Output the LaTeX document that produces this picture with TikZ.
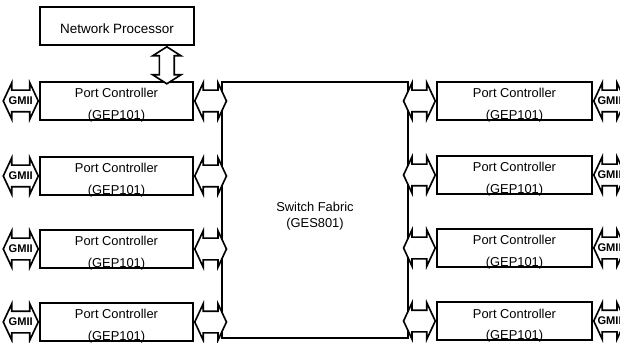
\documentclass[tikz,border=0pt]{standalone}
\usepackage{fontspec}
\setmainfont{Liberation Sans}
\usepackage{tikz}
\usetikzlibrary{positioning, calc, shapes.arrows}

\begin{document}
\begin{tikzpicture}[
    x=0.03cm, y=-0.03cm,
    chip/.style={rectangle, draw=black, fill=white, line width=1.4pt,
                 minimum width=4.6cm, minimum height=1.14cm,
                 align=center, inner sep=0pt,
                 font=\fontsize{11}{18.5}\selectfont},
    port/.style={chip, label={[align=center, yshift=-0.135cm,
                 font=\fontsize{11}{18.5}\selectfont]center:Port Controller\\(GEP101)}},
    link/.style={double arrow, draw=black, fill=white, line width=1.4pt,
                 inner sep=0.3cm, double arrow head extend=0.22cm,
                 double arrow tip angle=130, minimum height=0.87cm},
    gmii/.style={link, minimum height=1.05cm,
                 label={[font=\fontsize{9.5}{10}\selectfont\bfseries]center:GMII}},
  ]
    \useasboundingbox (0,0) rectangle (620,343);

    % Switch fabric in the middle
    \node[chip, minimum width=5.58cm, minimum height=7.68cm, text height=33pt,
          font=\fontsize{11}{14.5}\selectfont] (SF) at (315,210)
         {Switch Fabric\\(GES801)};

    % Network processor
    \node[chip, minimum width=4.62cm, text height=13.5pt,
          font=\fontsize{11.5}{14}\selectfont] (NP)
         at (117,26) {Network Processor};

    % Left port controllers
    \node[port, minimum width=4.59cm] (PCL1) at (116.5,101) {};
    \node[port, minimum width=4.59cm] (PCL2) at (116.5,176) {};
    \node[port, minimum width=4.59cm] (PCL3) at (116.5,249) {};
    \node[port, minimum width=4.59cm] (PCL4) at (116.5,322) {};

    % Right port controllers
    \node[port, minimum width=4.65cm] (PCR1) at (514.5,101) {};
    \node[port, minimum width=4.65cm] (PCR2) at (514.5,175) {};
    \node[port, minimum width=4.65cm] (PCR3) at (514.5,248) {};
    \node[port, minimum width=4.65cm] (PCR4) at (514.5,321) {};

    % Processor to first port controller
    \node[link, shape border rotate=90, inner sep=0.2cm,
          double arrow head extend=0.2cm, double arrow tip angle=115,
          minimum height=1.11cm, anchor=north] (NPA)
         at ([xshift=-0.84cm]NP.south east) {};

    % Links to the switch fabric
    \node[link, right=0pt of PCL1] (LL1) {};
    \node[link, right=0pt of PCL2] (LL2) {};
    \node[link, right=0pt of PCL3] (LL3) {};
    \node[link, right=0pt of PCL4] (LL4) {};
    \node[link, left=0pt of PCR1] (LR1) {};
    \node[link, left=0pt of PCR2] (LR2) {};
    \node[link, left=0pt of PCR3] (LR3) {};
    \node[link, left=0pt of PCR4] (LR4) {};

    % GMII ports
    \node[gmii, left=0pt of PCL1] (GL1) {};
    \node[gmii, left=0pt of PCL2] (GL2) {};
    \node[gmii, left=0pt of PCL3] (GL3) {};
    \node[gmii, left=0pt of PCL4] (GL4) {};
    \node[gmii, minimum height=0.84cm, right=0pt of PCR1] (GR1) {};
    \node[gmii, minimum height=0.84cm, right=0pt of PCR2] (GR2) {};
    \node[gmii, minimum height=0.84cm, right=0pt of PCR3] (GR3) {};
    \node[gmii, minimum height=0.84cm, right=0pt of PCR4] (GR4) {};
  \end{tikzpicture}
\end{document}
